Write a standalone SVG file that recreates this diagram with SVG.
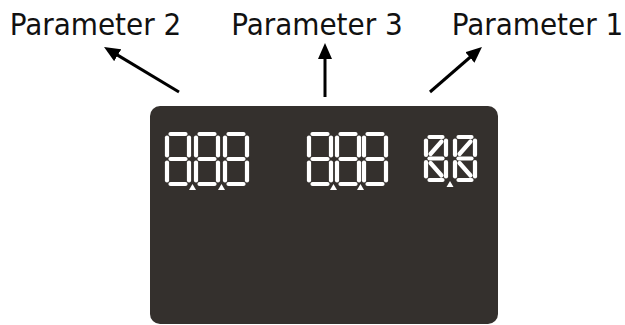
<svg xmlns="http://www.w3.org/2000/svg" xmlns:xlink="http://www.w3.org/1999/xlink" width="625" height="325" viewBox="0 0 625 325">
<style>
.lbl{font-family:'DejaVu Sans Condensed','DejaVu Sans',sans-serif;font-stretch:condensed;font-size:31px;fill:#111;text-anchor:middle}
.arr{stroke:#000;stroke-width:3;fill:none}
.seg{stroke:#fff;stroke-width:4.2;stroke-linecap:round;fill:none}
.dp{fill:#fff}
</style>
<defs>
<marker id="ah" viewBox="0 0 16 14" refX="6" refY="7" markerWidth="16" markerHeight="14" markerUnits="userSpaceOnUse" orient="auto">
<path d="M0,0 L16,7 L0,14 Z" fill="#000"/>
</marker>
<g id="d7" class="seg">
<line x1="5.5" y1="2" x2="20.5" y2="2"/>
<line x1="2" y1="5.5" x2="2" y2="23.5"/>
<line x1="24" y1="5.5" x2="24" y2="23.5"/>
<line x1="5.5" y1="27" x2="20.5" y2="27"/>
<line x1="2" y1="30.5" x2="2" y2="48.5"/>
<line x1="24" y1="30.5" x2="24" y2="48.5"/>
<line x1="5.5" y1="52" x2="20.5" y2="52"/>
</g>
<g id="d16" class="seg">
<line x1="5.5" y1="2" x2="18.5" y2="2"/>
<line x1="2" y1="5.5" x2="2" y2="20"/>
<line x1="22" y1="5.5" x2="22" y2="20"/>
<line x1="5.5" y1="23.5" x2="18.5" y2="23.5"/>
<line x1="2" y1="27" x2="2" y2="41.5"/>
<line x1="22" y1="27" x2="22" y2="41.5"/>
<line x1="5.5" y1="45" x2="18.5" y2="45"/>
<line x1="6.5" y1="19" x2="17.5" y2="6.5"/>
<line x1="6.5" y1="28" x2="17.5" y2="40.5"/>
</g>
<path id="dot" d="M-3.5,3 L0,-3 L3.5,3 Z"/>
</defs>

<g id="label-p2"><text class="lbl" x="95.5" y="35">Parameter 2</text></g>
<g id="label-p3"><text class="lbl" x="317" y="35">Parameter 3</text></g>
<g id="label-p1"><text class="lbl" x="537.5" y="35">Parameter 1</text></g>

<g id="display">
<rect x="150" y="106" width="348" height="218" rx="10" ry="10" fill="#34302d"/>
<g id="param2-digits">
<use xlink:href="#d7" x="165" y="132"/>
<use xlink:href="#d7" x="194" y="132"/>
<use xlink:href="#d7" x="223" y="132"/>
<use xlink:href="#dot" class="dp" x="192.5" y="187"/>
<use xlink:href="#dot" class="dp" x="221.5" y="187"/>
</g>
<g id="param3-digits">
<use xlink:href="#d7" x="307" y="132"/>
<use xlink:href="#d7" x="335" y="132"/>
<use xlink:href="#d7" x="362" y="132"/>
<use xlink:href="#dot" class="dp" x="333.5" y="187"/>
<use xlink:href="#dot" class="dp" x="360.5" y="187"/>
</g>
<g id="param1-digits">
<use xlink:href="#d16" x="424" y="135"/>
<use xlink:href="#d16" x="453" y="135"/>
<use xlink:href="#dot" class="dp" x="450" y="184"/>
</g>
</g>

<g id="connectors">
<line class="arr" x1="179" y1="92" x2="112.6" y2="52.1" marker-end="url(#ah)"/>
<line class="arr" x1="325" y1="97" x2="325" y2="53" marker-end="url(#ah)"/>
<line class="arr" x1="430" y1="92" x2="474.4" y2="53.5" marker-end="url(#ah)"/>
</g>
</svg>
